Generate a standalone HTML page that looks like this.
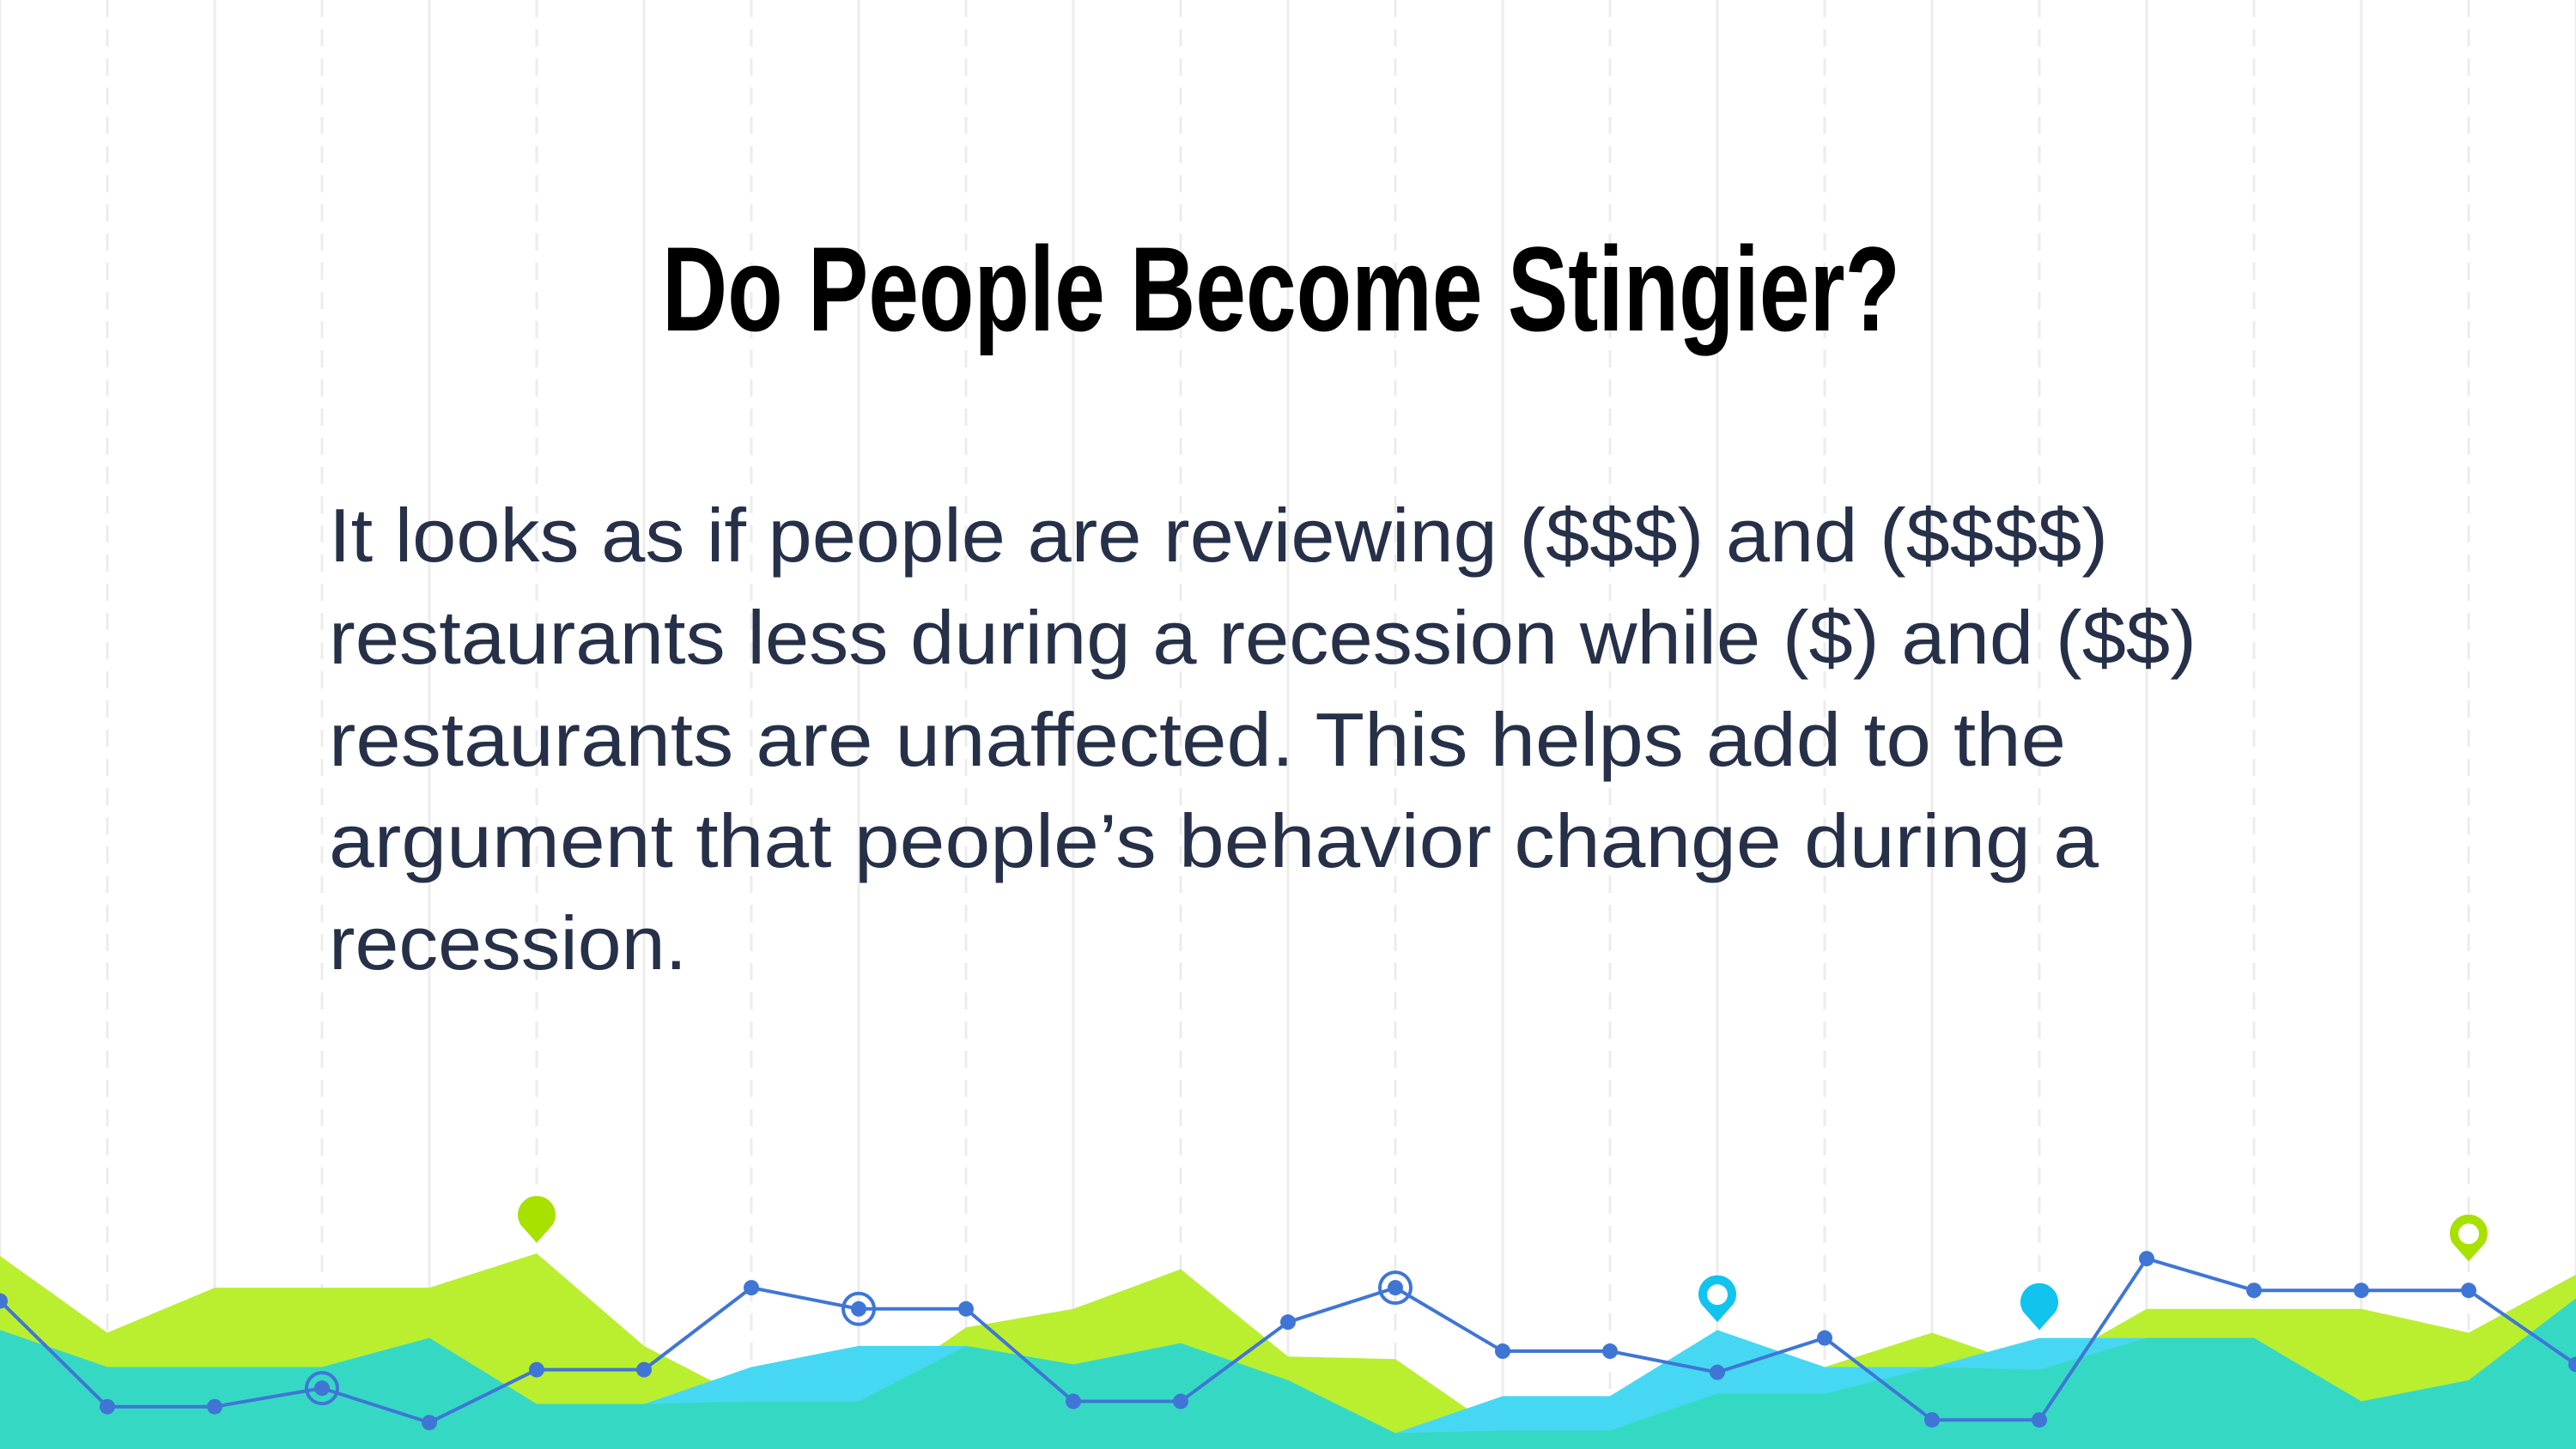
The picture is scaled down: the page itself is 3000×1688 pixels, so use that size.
<!DOCTYPE html>
<html><head><meta charset="utf-8"><style>
html,body{margin:0;padding:0;background:#fff;}
svg{display:block;}
</style></head><body>
<svg id="slide" width="3000" height="1688" viewBox="0 0 3000 1688" xmlns="http://www.w3.org/2000/svg">
<g id="grid"></g>
<text x="771" y="385" textLength="1442" lengthAdjust="spacingAndGlyphs" font-family="'Liberation Sans Narrow','Liberation Sans',sans-serif" font-weight="bold" font-size="140" fill="#000">Do People Become Stingier?</text>
<g font-family="'Liberation Sans',sans-serif" font-size="88" fill="#263048">
<text x="383" y="654" textLength="2072" lengthAdjust="spacingAndGlyphs">It looks as if people are reviewing ($$$) and ($$$$)</text>
<text x="383" y="773" textLength="2175" lengthAdjust="spacingAndGlyphs">restaurants less during a recession while ($) and ($$)</text>
<text x="383" y="892" textLength="2023" lengthAdjust="spacingAndGlyphs">restaurants are unaffected. This helps add to the</text>
<text x="383" y="1010" textLength="2061" lengthAdjust="spacingAndGlyphs">argument that people’s behavior change during a</text>
<text x="383" y="1129" textLength="417" lengthAdjust="spacingAndGlyphs">recession.</text>
</g>
<g id="deco"></g>
</svg>
<script>
const categories = [0,1,2,3,4,5,6,7,8,9,10,11,12,13,14,15,16,17,18,19,20,21,22,23,24];
const greenValues = [73,44,61,61,61,74,39,18,18,46,53,68,35,34,6,6,6,31,44,30,53,53,53,44,66];
const cyanValues = [45,31,31,31,42,17,17,31,39,39,32,40,26,6,20,20,45,31,31,42,42,42,18,26,57];
const tealValues = [45,31,31,31,42,17,17,18,18,39,32,40,26,6,7,7,21,21,31,30,42,42,18,26,57];
const lineValues = [56,16,16,23,10,30,30,61,53,53,18,18,48,61,37,37,29,42,11,11,72,60,60,60,32];
const ringIndices = [3,8,13];
const pinIndices = [5,16,19,23];
const pinLevels = [78,48,45,71];
const pinColors = ['#a8e000','#11c4ee','#11c4ee','#a8e000'];
const pinFilled = [true,false,true,false];

const NS='http://www.w3.org/2000/svg';
const step = 3000/24;
function xs(i){return i*step;}
function ys(v){return 1688 - v*3.08;}

const grid=document.getElementById('grid');
categories.forEach(function(c,i){
  const l=document.createElementNS(NS,'line');
  
  
  l.setAttribute('x1',xs(i));l.setAttribute('x2',xs(i));
  l.setAttribute('y1',0);l.setAttribute('y2',1688);
  l.setAttribute('stroke','#ececec');l.setAttribute('stroke-width','3');
  if(i%2===1) l.setAttribute('stroke-dasharray','20 14');
  grid.appendChild(l);
});

const deco=document.getElementById('deco');
function area(vals,color,name){
  let d='M0,1688';
  vals.forEach(function(v,i){d+=' L'+xs(i)+','+ys(v);});
  d+=' L3000,1688 Z';
  const p=document.createElementNS(NS,'path');
  
  
  p.setAttribute('d',d);p.setAttribute('fill',color);
  deco.appendChild(p);
}
area(greenValues,'#b9ef2f','green-area');
area(cyanValues,'#46d8f2','cyan-area');
area(tealValues,'#35d9c3','teal-area');

let ld='';
lineValues.forEach(function(v,i){ld+=(i?' L':'M')+xs(i)+','+ys(v);});
const line=document.createElementNS(NS,'path');


line.setAttribute('d',ld);line.setAttribute('fill','none');
line.setAttribute('stroke','#3f76d6');line.setAttribute('stroke-width','4');
deco.appendChild(line);
lineValues.forEach(function(v,i){
  const c=document.createElementNS(NS,'circle');
  
  
  c.setAttribute('cx',xs(i));c.setAttribute('cy',ys(v));c.setAttribute('r',9);
  c.setAttribute('fill','#3f76d6');
  deco.appendChild(c);
  if(ringIndices.indexOf(i)>=0){
    const r=document.createElementNS(NS,'circle');
    
    
    r.setAttribute('cx',xs(i));r.setAttribute('cy',ys(v));r.setAttribute('r',18);
    r.setAttribute('fill','none');r.setAttribute('stroke','#3f76d6');r.setAttribute('stroke-width','4');
    deco.appendChild(r);
  }
});
pinIndices.forEach(function(idx,k){
  const cx=xs(idx), tip=ys(pinLevels[k]), cy=tip-32, R=22;
  const p=document.createElementNS(NS,'path');
  
  
  p.setAttribute('d','M'+cx+','+tip+' L'+(cx-R*0.85)+','+(cy+R*0.5)+' A'+R+','+R+' 0 1 1 '+(cx+R*0.85)+','+(cy+R*0.5)+' Z');
  p.setAttribute('fill',pinColors[k]);
  deco.appendChild(p);
  if(!pinFilled[k]){
    const h=document.createElementNS(NS,'circle');
    
    
    h.setAttribute('cx',cx);h.setAttribute('cy',cy);h.setAttribute('r',12);
    h.setAttribute('fill','#fff');
    deco.appendChild(h);
  }
});
</script>
</body></html>
